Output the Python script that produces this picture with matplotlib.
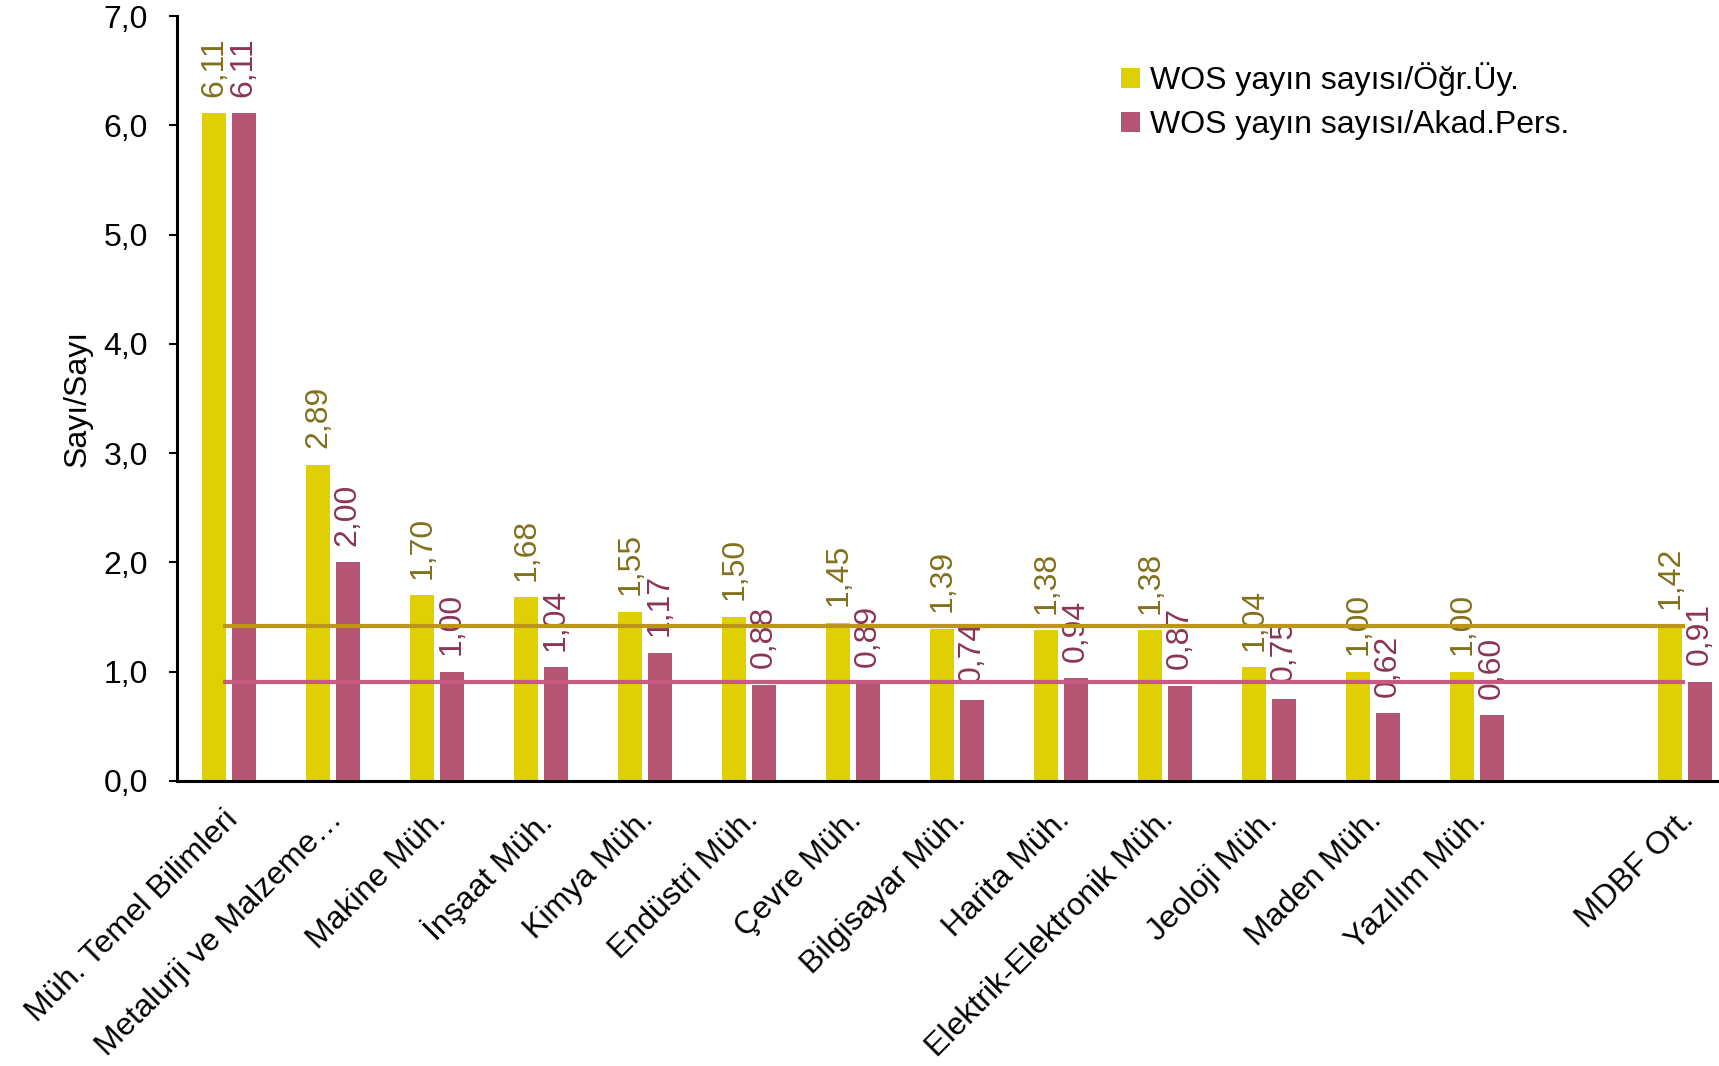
import matplotlib
matplotlib.use("Agg")
import matplotlib.pyplot as plt
import numpy as np

plt.rcParams["font.family"] = ["Liberation Sans", "DejaVu Sans"]

# bolum bazinda WOS yayin sayilari (bos eleman: MDBF ortalamasindan once bosluk)
categories = [
    "Müh. Temel Bilimleri",
    "Metalurji ve Malzeme…",
    "Makine Müh.",
    "İnşaat Müh.",
    "Kimya Müh.",
    "Endüstri Müh.",
    "Çevre Müh.",
    "Bilgisayar Müh.",
    "Harita Müh.",
    "Elektrik-Elektronik Müh.",
    "Jeoloji Müh.",
    "Maden Müh.",
    "Yazılım Müh.",
    "",
    "MDBF Ort.",
]
per_faculty = [6.11, 2.89, 1.70, 1.68, 1.55, 1.50, 1.45, 1.39, 1.38, 1.38, 1.04, 1.00, 1.00, None, 1.42]
per_staff = [6.11, 2.00, 1.00, 1.04, 1.17, 0.88, 0.89, 0.74, 0.94, 0.87, 0.75, 0.62, 0.60, None, 0.91]
series_names = ["WOS yayın sayısı/Öğr.Üy.", "WOS yayın sayısı/Akad.Pers."]
avg_faculty = per_faculty[-1]
avg_staff = per_staff[-1]

YELLOW = "#dfcf05"
PINK = "#b55574"
YELLOW_LINE = "#bd951b"
PINK_LINE = "#c65a80"
YELLOW_TXT = "#82701c"
PINK_TXT = "#8c3556"
FS = 23

fig = plt.figure(figsize=(17.19, 10.66), dpi=100)
ax = fig.add_axes([177 / 1719, 285 / 1066, 1 - 177 / 1719, 765 / 1066])

x = np.arange(len(categories))
w = 0.226
off = 0.142


def _vals(vs):
    return np.array([np.nan if v is None else v for v in vs], dtype=float)


y1 = _vals(per_faculty)
y2 = _vals(per_staff)
b1 = ax.bar(x - off, y1, w, color=YELLOW, label=series_names[0], zorder=2)
b2 = ax.bar(x + off, y2, w, color=PINK, label=series_names[1], zorder=2)

for xs, vals, col in ((x - off, per_faculty, YELLOW_TXT), (x + off, per_staff, PINK_TXT)):
    for xi, v in zip(xs, vals):
        if v is None:
            continue
        ax.annotate(f"{v:.2f}".replace(".", ","), (xi, v), xytext=(0, 12),
                    textcoords="offset points", rotation=90, ha="center",
                    va="bottom", fontsize=FS, color=col, zorder=3)

# fakulte ortalamasi cizgileri
ax.hlines(avg_faculty, -0.06, 14.0, color=YELLOW_LINE, lw=3, zorder=4)
ax.hlines(avg_staff, -0.06, 14.0, color=PINK_LINE, lw=3, zorder=4)

ax.set_xlim(-0.5, (1719 - 177) / 104 - 0.5)
ax.set_ylim(0, 7)
ax.set_yticks(np.arange(0, 8, 1))
ax.set_yticklabels([f"{t:.1f}".replace(".", ",") for t in range(8)], fontsize=FS)
# egik etiketler grup merkezinin biraz solunda biter
ax.set_xticks(x - 0.06)
ax.set_xticklabels(categories, rotation=45, ha="right", va="top",
                   rotation_mode="anchor", fontsize=FS)
ax.tick_params(axis="x", length=0, pad=17)
ax.tick_params(axis="y", length=6, width=1.5, pad=15)
ax.set_ylabel("Sayı/Sayı", fontsize=FS, labelpad=8)

for s in ("top", "right"):
    ax.spines[s].set_visible(False)
for s in ("left", "bottom"):
    ax.spines[s].set_linewidth(2.2)

fig.legend(handles=[b1, b2], loc="upper left", bbox_to_anchor=(1102 / 1719, 1 - 43 / 1066),
           frameon=False, fontsize=FS, handlelength=0.6, handleheight=0.6,
           handletextpad=0.3, labelspacing=0.45, borderaxespad=0.2)

fig.savefig("out.png", dpi=100)
